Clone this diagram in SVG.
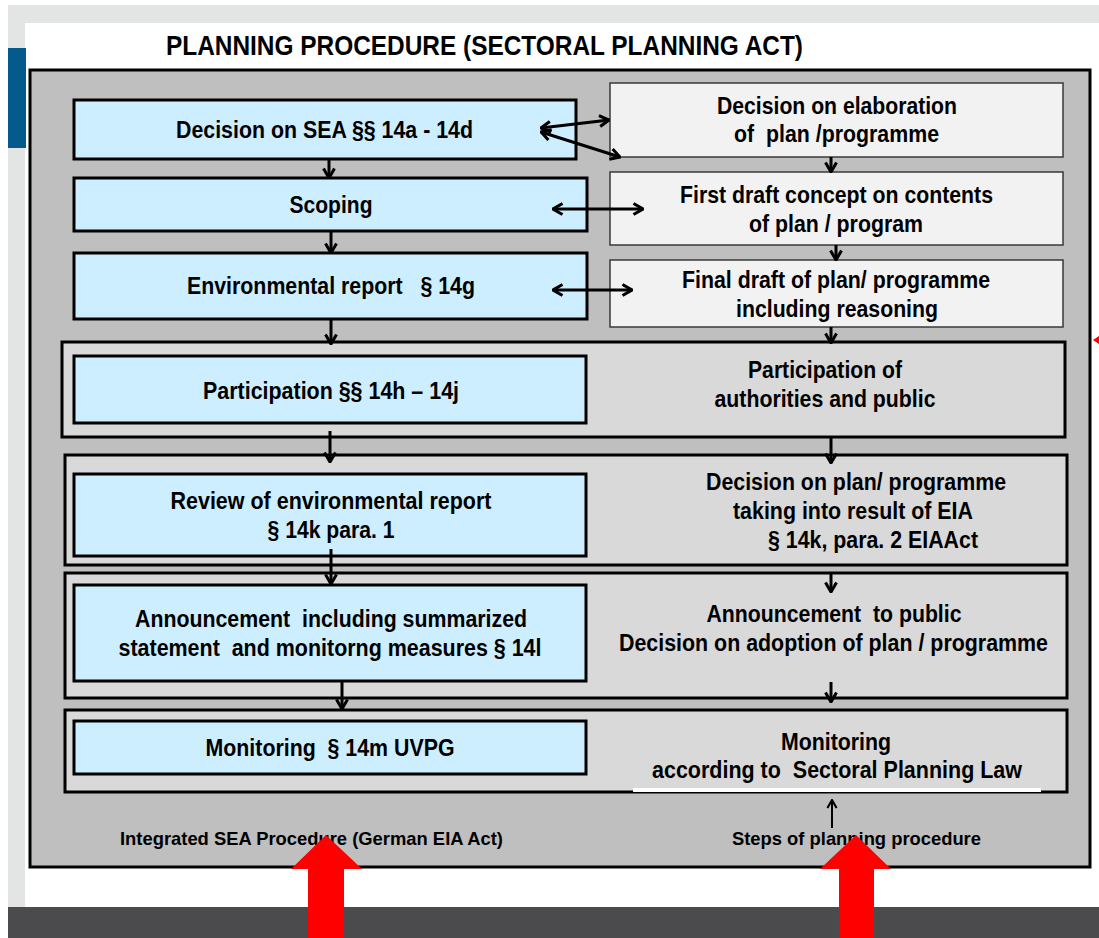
<svg xmlns="http://www.w3.org/2000/svg" width="1099" height="938" viewBox="0 0 1099 938">
<style>
  text { font-family: "Liberation Sans", Arial, sans-serif; font-weight: bold; fill: #000; white-space: pre; text-anchor: middle; }
  .t { font-size: 23px; }
  .s { font-size: 18.5px; }
  .title { font-size: 28px; }
  .blue { fill: #cdeeff; stroke: #000; stroke-width: 3; }
  .light { fill: #f2f2f2; stroke: #3a3a3a; stroke-width: 1.5; }
  .grp { fill: #d9d9d9; stroke: #000; stroke-width: 3; }
  .con { stroke: #000; stroke-width: 3; fill: none; marker-end: url(#ah); }
  .dbl { stroke: #000; stroke-width: 3; fill: none; marker-end: url(#ah); marker-start: url(#ah); }
  .red { fill: #ff0000; }
</style>
<defs>
  <marker id="ah" viewBox="0 0 12 14" refX="11" refY="7" markerWidth="12" markerHeight="14" markerUnits="userSpaceOnUse" orient="auto-start-reverse">
    <path d="M1.5,1.5 L11,7 L1.5,12.5" fill="none" stroke="#000" stroke-width="3" stroke-linejoin="miter"/>
  </marker>
  <marker id="ahs" viewBox="0 0 12 14" refX="11" refY="7" markerWidth="10" markerHeight="12" markerUnits="userSpaceOnUse" orient="auto-start-reverse">
    <path d="M1.5,1.5 L11,7 L1.5,12.5" fill="none" stroke="#000" stroke-width="2.5"/>
  </marker>
</defs>

<!-- page background -->
<rect x="0" y="0" width="1099" height="938" fill="#ffffff"/>
<rect x="8" y="5" width="1091" height="18" fill="#e3e5e5"/>
<rect x="8" y="5" width="17" height="902" fill="#e3e5e5"/>
<rect x="8" y="48" width="18" height="100" fill="#045a8a"/>
<rect x="8" y="907" width="1091" height="31" fill="#4b4b4d"/>
<polygon class="red" points="1093,340 1099,336 1099,344"/>

<text class="title" x="484.5" y="55" textLength="637" lengthAdjust="spacingAndGlyphs">PLANNING PROCEDURE (SECTORAL PLANNING ACT)</text>

<!-- outer frame -->
<rect id="frame" x="30" y="70" width="1060" height="797" fill="#bfbfbf" stroke="#000" stroke-width="3"/>

<!-- row groups -->
<g id="group-participation">
  <rect class="grp" x="62" y="342" width="1003" height="95"/>
</g>
<g id="group-review">
  <rect class="grp" x="65" y="455" width="1002" height="110"/>
</g>
<g id="group-announcement">
  <rect class="grp" x="65" y="573" width="1002" height="125"/>
</g>
<g id="group-monitoring">
  <rect class="grp" x="65" y="710" width="1002" height="82"/>
  <rect x="633" y="788" width="408" height="4" fill="#ffffff"/>
</g>

<!-- left column nodes -->
<g id="n-sea-decision">
  <rect class="blue" x="74" y="100" width="502" height="59"/>
  <text class="t" x="324.5" y="138" textLength="297" lengthAdjust="spacingAndGlyphs">Decision on SEA §§ 14a - 14d</text>
</g>
<g id="n-scoping">
  <rect class="blue" x="74" y="178" width="513" height="53"/>
  <text class="t" x="331" y="213" textLength="83" lengthAdjust="spacingAndGlyphs">Scoping</text>
</g>
<g id="n-env-report">
  <rect class="blue" x="74" y="253" width="513" height="66"/>
  <text class="t" x="331" y="294" textLength="288" lengthAdjust="spacingAndGlyphs">Environmental report   § 14g</text>
</g>
<g id="n-participation">
  <rect class="blue" x="74" y="356" width="512" height="67"/>
  <text class="t" x="331" y="399" textLength="256" lengthAdjust="spacingAndGlyphs">Participation §§ 14h – 14j</text>
</g>
<g id="n-review">
  <rect class="blue" x="74" y="474" width="512" height="82"/>
  <text class="t" x="331" y="509" textLength="321" lengthAdjust="spacingAndGlyphs">Review of environmental report</text>
  <text class="t" x="331" y="538" textLength="127" lengthAdjust="spacingAndGlyphs">§ 14k para. 1</text>
</g>
<g id="n-announcement">
  <rect class="blue" x="74" y="585" width="512" height="96"/>
  <text class="t" x="331" y="627" textLength="392" lengthAdjust="spacingAndGlyphs">Announcement  including summarized</text>
  <text class="t" x="330" y="656" textLength="423" lengthAdjust="spacingAndGlyphs">statement  and monitorng measures § 14l</text>
</g>
<g id="n-monitoring">
  <rect class="blue" x="74" y="721" width="512" height="53"/>
  <text class="t" x="330" y="756" textLength="249" lengthAdjust="spacingAndGlyphs">Monitoring  § 14m UVPG</text>
</g>

<!-- right column nodes -->
<g id="n-elaboration">
  <rect class="light" x="610" y="83" width="453" height="74"/>
  <text class="t" x="837" y="114" textLength="240" lengthAdjust="spacingAndGlyphs">Decision on elaboration</text>
  <text class="t" x="836.5" y="142" textLength="205" lengthAdjust="spacingAndGlyphs">of  plan /programme</text>
</g>
<g id="n-first-draft">
  <rect class="light" x="610" y="172" width="453" height="73"/>
  <text class="t" x="836.5" y="203" textLength="313" lengthAdjust="spacingAndGlyphs">First draft concept on contents</text>
  <text class="t" x="836" y="232" textLength="174" lengthAdjust="spacingAndGlyphs">of plan / program</text>
</g>
<g id="n-final-draft">
  <rect class="light" x="610" y="260" width="453" height="67"/>
  <text class="t" x="836" y="288" textLength="308" lengthAdjust="spacingAndGlyphs">Final draft of plan/ programme</text>
  <text class="t" x="837" y="317" textLength="202" lengthAdjust="spacingAndGlyphs">including reasoning</text>
</g>
<g id="n-participation-public">
  <text class="t" x="825" y="378" textLength="154" lengthAdjust="spacingAndGlyphs">Participation of</text>
  <text class="t" x="825" y="407" textLength="221" lengthAdjust="spacingAndGlyphs">authorities and public</text>
</g>
<g id="n-decision-plan">
  <text class="t" x="856" y="490" textLength="300" lengthAdjust="spacingAndGlyphs">Decision on plan/ programme</text>
  <text class="t" x="853" y="519" textLength="240" lengthAdjust="spacingAndGlyphs">taking into result of EIA</text>
  <text class="t" x="873" y="548" textLength="210" lengthAdjust="spacingAndGlyphs">§ 14k, para. 2 EIAAct</text>
</g>
<g id="n-announcement-public">
  <text class="t" x="834" y="622" textLength="255" lengthAdjust="spacingAndGlyphs">Announcement  to public</text>
  <text class="t" x="833.5" y="651" textLength="429" lengthAdjust="spacingAndGlyphs">Decision on adoption of plan / programme</text>
</g>
<g id="n-monitoring-law">
  <text class="t" x="836" y="750" textLength="110" lengthAdjust="spacingAndGlyphs">Monitoring</text>
  <text class="t" x="837" y="778" textLength="370" lengthAdjust="spacingAndGlyphs">according to  Sectoral Planning Law</text>
</g>

<!-- connectors -->
<g id="connectors">
  <line class="con" x1="329" y1="159" x2="329" y2="178"/>
  <line class="con" x1="331" y1="231" x2="331" y2="253"/>
  <line class="con" x1="331" y1="319" x2="331" y2="344"/>
  <line class="con" x1="330" y1="431" x2="330" y2="462"/>
  <line class="con" x1="331" y1="549" x2="331" y2="584"/>
  <line class="con" x1="342" y1="682" x2="342" y2="709"/>

  <line class="con" x1="831" y1="157" x2="831" y2="172"/>
  <line class="con" x1="836" y1="245" x2="836" y2="260"/>
  <line class="con" x1="831" y1="327" x2="831" y2="343"/>
  <line class="con" x1="831" y1="437" x2="831" y2="463"/>
  <line class="con" x1="831" y1="572" x2="831" y2="592"/>
  <line class="con" x1="831" y1="682" x2="831" y2="702"/>
  <line x1="832" y1="828" x2="832" y2="800" stroke="#000" stroke-width="2" marker-end="url(#ahs)"/>

  <line class="dbl" x1="541" y1="128" x2="609" y2="120"/>
  <line class="dbl" x1="541" y1="132" x2="620" y2="157"/>
  <line class="dbl" x1="553" y1="209" x2="643" y2="209"/>
  <line class="dbl" x1="553" y1="290" x2="632" y2="290"/>
</g>

<!-- bottom labels -->
<text class="s" x="311.5" y="845" textLength="383" lengthAdjust="spacingAndGlyphs">Integrated SEA Procedure (German EIA Act)</text>
<text class="s" x="856.5" y="845" textLength="249" lengthAdjust="spacingAndGlyphs">Steps of planning procedure</text>

<!-- red arrows -->
<polygon class="red" points="308,938 308,869 291,869 326,835 362,869 344,869 344,938"/>
<polygon class="red" points="839,938 839,869 820,869 856,835 891,869 874,869 874,938"/>
</svg>
